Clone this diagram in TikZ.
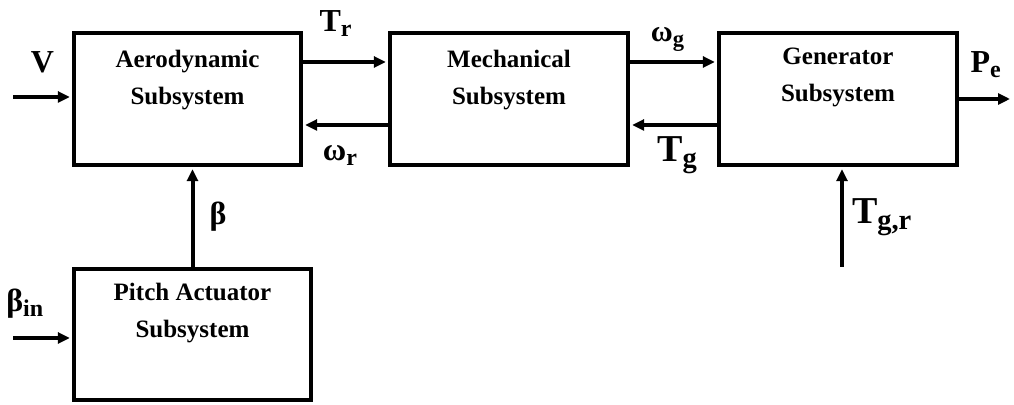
\documentclass[tikz,border=0pt]{standalone}
\usepackage{fontspec}
\setmainfont{Liberation Serif}
\usetikzlibrary{arrows.meta,positioning}
\newcommand{\lsub}[1]{\raisebox{-0.35ex}{\scalebox{0.75}{#1}}}
\tikzset{
  sysbox/.style={draw, line width=2.2pt, minimum width=#1, minimum height=66pt, inner sep=0pt},
  sysbox/.default=119pt,
  systext/.style={align=center, inner sep=0pt, font=\fontsize{12.5}{18.5}\selectfont\bfseries},
  arr/.style={-{Triangle[length=6pt,width=5.5pt]}, line width=2pt, shorten >=1pt},
  lab/.style={inner sep=0pt, font=\fontsize{16}{16}\selectfont\bfseries},
  biglab/.style={lab, font=\fontsize{19}{19}\selectfont\bfseries},
}
\begin{document}
\begin{tikzpicture}[x=0.5pt, y=-0.5pt]
  \useasboundingbox (0,0) rectangle (1014,405);
  % blocks
  \node[sysbox=113.5pt] (aero) at (187.5,99) {};
  \node[sysbox] (mech) at (509,99) {};
  \node[sysbox] (gen) at (838,99) {};
  \node[sysbox=118.5pt, minimum height=65.5pt] (pitch) at (192.5,334.5) {};
  \node[systext] (aerotxt) at ([yshift=-24.5pt]aero.north) {Aerodynamic\\Subsystem};
  \node[systext] (mechtxt) at ([yshift=-24.5pt]mech.north) {Mechanical\\Subsystem};
  \node[systext] (gentxt) at ([yshift=-23.5pt]gen.north) {Generator\\Subsystem};
  \node[systext] (pitchtxt) at ([yshift=-23pt]pitch.north) {Pitch Actuator\\Subsystem};
  % free ends
  \coordinate (vin) at (13,97);
  \coordinate (bin) at (13,338);
  \coordinate (pout) at (1012,99);
  \coordinate (tgr) at (842,267);
  % signals
  \draw[arr] (vin) -- node[lab, above=11pt]{V} (vin -| aero.west);
  \draw[arr] ([yshift=18.5pt]aero.east) -- node[lab, above=11.5pt, xshift=-5pt]{T\lsub{r}} ([yshift=18.5pt]mech.west);
  \draw[arr] ([yshift=-13pt]mech.west) -- node[lab, below=9pt, xshift=-2.75pt]{ω\lsub{r}} ([yshift=-13pt]aero.east);
  \draw[arr] ([yshift=18.5pt]mech.east) -- node[lab, above=4.5pt, xshift=-3pt, font=\fontsize{15}{15}\selectfont\bfseries]{ω\lsub{g}} ([yshift=18.5pt]gen.west);
  \draw[arr] ([yshift=-13pt]gen.west) -- node[biglab, below=5pt, xshift=1.75pt]{T\lsub{g}} ([yshift=-13pt]mech.east);
  \draw[arr] (gen.east) -- node[lab, above=9.5pt]{P\lsub{e}} (pout);
  \draw[arr] (tgr) -- node[biglab, right=4pt]{T\lsub{g,r}} (tgr |- gen.south);
  \draw[arr] (pitch.north) -- node[lab, right=7.5pt]{β} (pitch.north |- aero.south);
  \draw[arr] (bin) -- node[lab, pos=0.2, above=9pt]{β\lsub{in}} (bin -| pitch.west);
\end{tikzpicture}
\end{document}
